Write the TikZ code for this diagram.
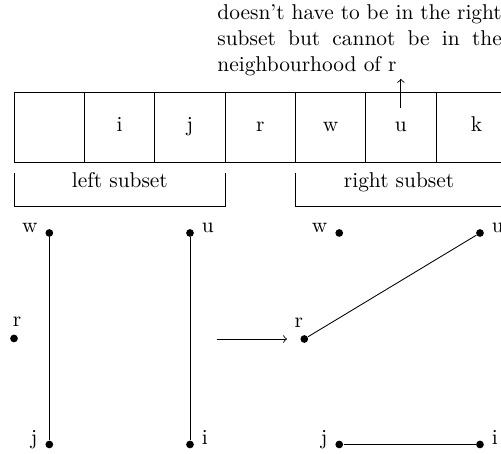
\documentclass[tikz,border=0pt]{standalone}
\usepackage{tikz}
\usetikzlibrary{arrows, positioning, calc}

\begin{document}
\begin{tikzpicture}[
    cell/.style={rectangle, draw=black, minimum width=1.155cm, text height=18.5pt, text depth=14.2pt, inner sep=0pt, outer sep=0pt},
    subset/.style={anchor=base},
    note/.style={text width=4.67cm, align=justify, inner sep=0pt, anchor=north west, font=\sloppy},
    dot/.style={circle, fill=black, inner sep=0pt, minimum size=3.6pt},
    tagleft/.style={label={[anchor=base east]left:#1}},
    tagright/.style={label={[anchor=base west]right:#1}},
    tagabove/.style={label={[xshift=#1]above:r}},
    arrow/.style={->}
]

\useasboundingbox (0,0) rectangle (8.227,7.455);

% =================== ARRAY OF CELLS ===================
\foreach \lab [count=\n from 0] in {{},i,j,r,w,u}
    \node[cell] (c\n) at ({0.808+1.155*\n},5.364) {\lab};
\node[cell, minimum width=1.33cm, right=0pt of c5] (c6) {k};

% Subsets (brackets under the cells)
\draw (0.23,4.614) |- (3.706,4.072) -- (3.706,4.614);
\draw (4.856,4.614) |- (8.25,4.072) -- (8.25,4.614);

\node[subset] (lsub) at (1.968,4.372) {left subset};
\node[subset] (rsub) at (6.553,4.372) {right subset};

% =================== NOTE ABOVE ===================
\node[note] (note) at (3.563,7.38)
{doesn't have to be in the right subset but cannot be in the neighbourhood of r};

\coordinate (utail) at ([yshift=0.32cm]c5.center);
\draw[arrow] (utail) -- ([yshift=-1.3pt]note.south -| utail);

% =================== LEFT GRAPH ===================
\node[dot, tagleft=w] (lw) at (0.81,3.629) {};
\node[dot, tagright=u] (lu) at (3.12,3.629) {};
\node[dot, tagabove=1.4pt, label distance=-1pt] (lr) at (0.23,1.897) {};
\node[dot, tagleft=j] (lj) at (0.81,0.156) {};
\node[dot, tagright=i] (li) at (3.12,0.156) {};

\draw (lw) -- (lj);
\draw (lu) -- (li);

% =================== MAPPING ARROW ===================
\coordinate (mapstart) at (3.563,1.888);
\coordinate (mapend) at (4.713,1.888);
\draw[arrow] (mapstart) -- (mapend);

% =================== RIGHT GRAPH ===================
\node[dot, tagleft=w] (rw) at (5.571,3.629) {};
\node[dot, tagright=u] (ru) at (7.882,3.629) {};
\node[dot, tagabove=-2.6pt, label distance=-1pt] (rr) at (4.997,1.888) {};
\node[dot, tagleft=j] (rj) at (5.571,0.156) {};
\node[dot, tagright=i] (ri) at (7.882,0.156) {};

\draw (rr) -- (ru);
\draw (rj) -- (ri);

\end{tikzpicture}
\end{document}
